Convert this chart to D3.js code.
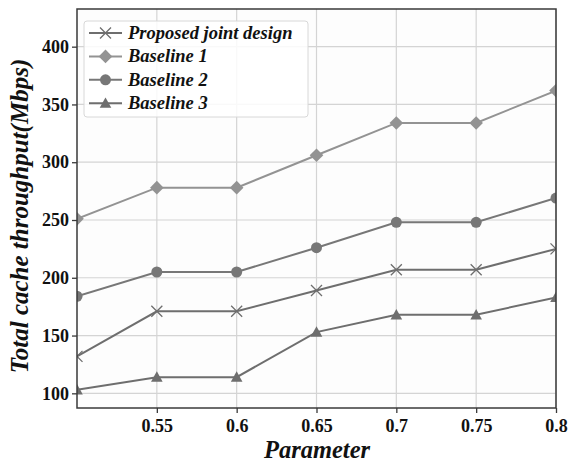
<!DOCTYPE html>
<html>
<head>
<meta charset="utf-8">
<script src="https://cdn.jsdelivr.net/npm/d3@7/dist/d3.min.js"></script>
<style>
  html, body { margin: 0; padding: 0; background: #ffffff; }
  svg { display: block; }
  svg text { font-family: "Liberation Serif", "Times New Roman", "DejaVu Serif", serif; }
</style>
</head>
<body>
<svg id="chart" width="572" height="462"></svg>
<script>
// Parameter values on the x axis
const params = [0.5, 0.55, 0.6, 0.65, 0.7, 0.75, 0.8];
const xTicks = [0.55, 0.6, 0.65, 0.7, 0.75, 0.8];
const yTicks = [100, 150, 200, 250, 300, 350, 400];

// Total cache throughput (Mbps) for each scheme
const proposed  = [132, 171, 171, 189, 207, 207, 225];
const baseline1 = [251, 278, 278, 306, 334, 334, 362];
const baseline2 = [184, 205, 205, 226, 248, 248, 269];
const baseline3 = [103, 114, 114, 153, 168, 168, 183];

const seriesNames = ["Proposed joint design", "Baseline 1", "Baseline 2", "Baseline 3"];
const seriesColors = ["#6e6e6e", "#939393", "#777777", "#6e6e6e"];
const seriesMarkers = ["cross", "diamond", "circle", "triangle"];
const seriesValues = [proposed, baseline1, baseline2, baseline3];

const svg = d3.select("#chart");
const margin = { left: 77, top: 9, right: 16, bottom: 54 };
const W = 572, H = 462;
const pw = W - margin.left - margin.right;
const ph = H - margin.top - margin.bottom;

const x = d3.scaleLinear().domain([0.5, 0.8]).range([margin.left, margin.left + pw]);
const y = d3.scaleLinear().domain([87.3, 432.6]).range([margin.top + ph, margin.top]);

// plot background
svg.append("rect")
  .attr("x", margin.left).attr("y", margin.top)
  .attr("width", pw).attr("height", ph)
  .attr("fill", "#fdfdfd");

// grid
const grid = svg.append("g");
grid.selectAll("line.gx").data(xTicks).join("line")
  .attr("x1", d => x(d)).attr("x2", d => x(d))
  .attr("y1", margin.top).attr("y2", margin.top + ph)
  .attr("stroke", "#d4d4d4").attr("stroke-width", 1.2);
grid.selectAll("line.gy").data(yTicks).join("line")
  .attr("x1", margin.left).attr("x2", margin.left + pw)
  .attr("y1", d => y(d)).attr("y2", d => y(d))
  .attr("stroke", "#d4d4d4").attr("stroke-width", 1.2);

// series, clipped to the plot frame
svg.append("clipPath").attr("id", "plotclip")
  .append("rect").attr("x", margin.left).attr("y", margin.top).attr("width", pw).attr("height", ph);

const plot = svg.append("g").attr("clip-path", "url(#plotclip)");
const line = d3.line().x((d, i) => x(params[i])).y(d => y(d));

function drawMarker(g, type, cx, cy, color) {
  if (type === "cross") {
    const s = 5.5;
    g.append("path")
      .attr("d", `M${cx - s},${cy - s}L${cx + s},${cy + s}M${cx - s},${cy + s}L${cx + s},${cy - s}`)
      .attr("stroke", color).attr("stroke-width", 1.3).attr("fill", "none");
  } else if (type === "diamond") {
    const s = 6.8;
    g.append("path")
      .attr("d", `M${cx},${cy - s}L${cx + s},${cy}L${cx},${cy + s}L${cx - s},${cy}Z`)
      .attr("fill", color);
  } else if (type === "circle") {
    g.append("circle").attr("cx", cx).attr("cy", cy).attr("r", 5.5).attr("fill", color);
  } else if (type === "triangle") {
    const s = 5.8;
    g.append("path")
      .attr("d", `M${cx},${cy - s}L${cx + s},${cy + s * 0.8}L${cx - s},${cy + s * 0.8}Z`)
      .attr("fill", color);
  }
}

seriesValues.forEach((vals, k) => {
  plot.append("path").datum(vals)
    .attr("d", line)
    .attr("fill", "none")
    .attr("stroke", seriesColors[k])
    .attr("stroke-width", 2);
  const mg = plot.append("g");
  vals.forEach((v, i) => drawMarker(mg, seriesMarkers[k], x(params[i]), y(v), seriesColors[k]));
});

// frame
svg.append("rect")
  .attr("x", margin.left).attr("y", margin.top)
  .attr("width", pw).attr("height", ph)
  .attr("fill", "none").attr("stroke", "#3a3a3a").attr("stroke-width", 1.5);

// axes
const xAxis = svg.append("g")
  .attr("transform", `translate(0,${margin.top + ph})`)
  .call(d3.axisBottom(x).tickValues(xTicks).tickSize(5).tickPadding(6)
    .tickFormat(d => String(+d.toFixed(2))));
xAxis.select(".domain").remove();
xAxis.selectAll("line").attr("stroke", "#3a3a3a").attr("stroke-width", 1.3);
xAxis.selectAll("text")
  .attr("font-family", null)
  .attr("font-weight", "bold").attr("font-size", 18)
  .attr("fill", "#111");

const yAxis = svg.append("g")
  .attr("transform", `translate(${margin.left},0)`)
  .call(d3.axisLeft(y).tickValues(yTicks).tickSize(5).tickPadding(3));
yAxis.select(".domain").remove();
yAxis.selectAll("line").attr("stroke", "#3a3a3a").attr("stroke-width", 1.3);
yAxis.selectAll("text")
  .attr("font-family", null)
  .attr("font-weight", "bold").attr("font-size", 18)
  .attr("fill", "#111");

// axis titles
svg.append("text")
  .attr("x", 317).attr("y", 458)
  .attr("text-anchor", "middle")
  .attr("font-weight", "bold").attr("font-style", "italic")
  .attr("font-size", 24.5).attr("fill", "#111")
  .text("Parameter");

svg.append("text")
  .attr("transform", `translate(28,216) rotate(-90)`)
  .attr("text-anchor", "middle")
  .attr("font-weight", "bold").attr("font-style", "italic")
  .attr("font-size", 25).attr("fill", "#111")
  .text("Total cache throughput(Mbps)");

// legend
const lg = svg.append("g");
lg.append("rect")
  .attr("x", 84).attr("y", 21).attr("width", 224).attr("height", 96)
  .attr("rx", 3).attr("fill", "#ffffff").attr("fill-opacity", 0.85)
  .attr("stroke", "#d8d8d8").attr("stroke-width", 1);
seriesNames.forEach((name, k) => {
  const cy = 33 + k * 23.4;
  lg.append("line")
    .attr("x1", 89).attr("x2", 122).attr("y1", cy).attr("y2", cy)
    .attr("stroke", seriesColors[k]).attr("stroke-width", 2);
  drawMarker(lg, seriesMarkers[k], 105.5, cy, seriesColors[k]);
  lg.append("text")
    .attr("x", 128).attr("y", cy + 6)
    .attr("font-weight", "bold").attr("font-style", "italic")
    .attr("font-size", 18.5).attr("fill", "#111")
    .text(name);
});
</script>
</body>
</html>
